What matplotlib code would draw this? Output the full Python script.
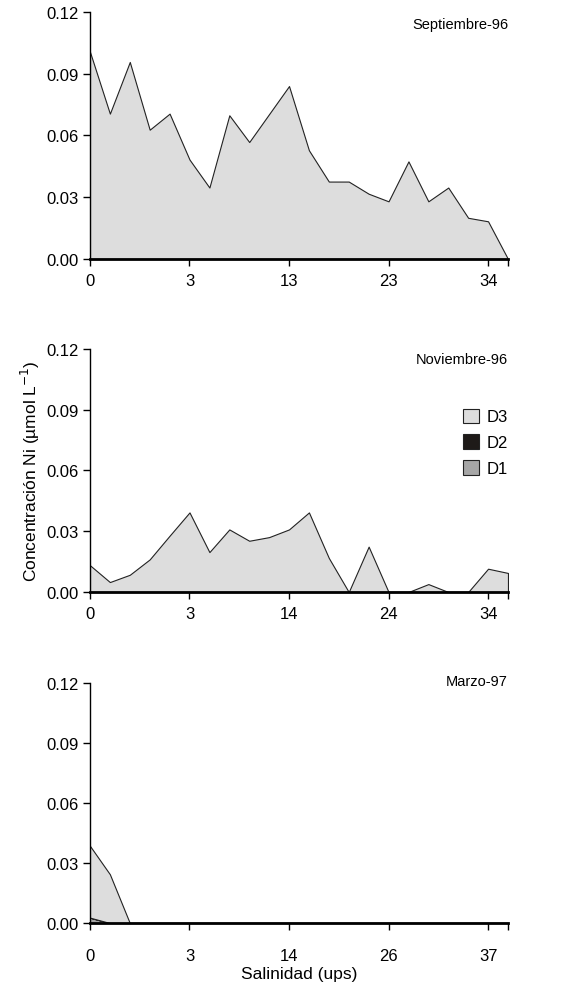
import numpy as np
import matplotlib.pyplot as plt

plt.rcParams['font.family'] = ['Liberation Sans', 'DejaVu Sans']

# estaciones (22 puntos por campaña)
n = 22
tick_idx = [0, 5, 10, 15, 20]

sep_labels = ['0', '3', '13', '23', '34']
nov_labels = ['0', '3', '14', '24', '34']
mar_labels = ['0', '3', '14', '26', '37']

# Septiembre-96
sep_d1 = [0.0] * n
sep_d2 = [0.0] * n
sep_d3 = [0.1006, 0.0706, 0.0957, 0.0628, 0.0706, 0.0483, 0.0347, 0.0698, 0.0568, 0.0704, 0.0840,
          0.0528, 0.0376, 0.0376, 0.0317, 0.0280, 0.0474, 0.0280, 0.0347, 0.0200, 0.0183, 0.0]

# Noviembre-96
nov_d1 = [0.0] * n
nov_d2 = [0.0] * n
nov_d3 = [0.0132, 0.0049, 0.0085, 0.0161, 0.0278, 0.0393, 0.0197, 0.0309, 0.0253, 0.0271, 0.0309,
          0.0393, 0.0168, 0.0, 0.0224, 0.0, 0.0, 0.0039, 0.0, 0.0, 0.0115, 0.0094]

# Marzo-97
mar_d1 = [0.0027] + [0.0] * (n - 1)
mar_d2 = [0.0] * n
mar_d3 = [0.0359, 0.0244] + [0.0] * (n - 2)

colors = ['#a6a6a6', '#1e1a18', '#dddddd']  # D1, D2, D3

panels = [
    ('Septiembre-96', sep_d1, sep_d2, sep_d3, sep_labels, [0.1546, 0.7366, 0.7182, 0.2503], 0.952, 5),
    ('Noviembre-96', nov_d1, nov_d2, nov_d3, nov_labels, [0.1546, 0.3992, 0.7182, 0.2462], 0.960, 5),
    ('Marzo-97', mar_d1, mar_d2, mar_d3, mar_labels, [0.1546, 0.0638, 0.7182, 0.2430], 1.008, 13),
]

fig = plt.figure(figsize=(5.82, 9.87), dpi=100)
x = np.arange(n)

axes = []
for title, d1, d2, d3, labels, pos, ty, xpad in panels:
    ax = fig.add_axes(pos)
    ax.stackplot(x, d1, d2, d3, colors=colors, edgecolor='#222222', linewidth=0.8,
                 labels=['D1', 'D2', 'D3'])
    ax.set_xlim(0, n - 1)
    ax.set_ylim(0, 0.12)
    ax.set_yticks([0, 0.03, 0.06, 0.09, 0.12])
    ax.set_yticklabels(['0.00', '0.03', '0.06', '0.09', '0.12'])
    ax.set_xticks(tick_idx + [n - 1])
    ax.set_xticklabels(labels + [''])
    ax.spines['top'].set_visible(False)
    ax.spines['right'].set_visible(False)
    ax.spines['bottom'].set_linewidth(2.0)
    ax.spines['left'].set_linewidth(1.0)
    ax.tick_params(axis='both', direction='out', length=5, width=1, labelsize=12)
    ax.tick_params(axis='x', pad=xpad)
    ax.tick_params(axis='y', pad=3)
    ax.text(1.0, ty, title, transform=ax.transAxes, ha='right', va='center', fontsize=10.5)
    axes.append(ax)

# leyenda en el panel central
h, l = axes[1].get_legend_handles_labels()
axes[1].legend(h[::-1], l[::-1], loc='upper right', bbox_to_anchor=(1.0, 0.755), frameon=False,
               fontsize=12, handlelength=0.95, handleheight=0.95, handletextpad=0.45,
               labelspacing=0.6, borderpad=0, borderaxespad=0)

axes[1].set_ylabel('Concentración Ni (µmol L$^{-1}$)', fontsize=12.5, labelpad=3)
axes[2].set_xlabel('Salinidad (ups)', fontsize=12.5, labelpad=2)

plt.savefig('out.png', dpi=100)
